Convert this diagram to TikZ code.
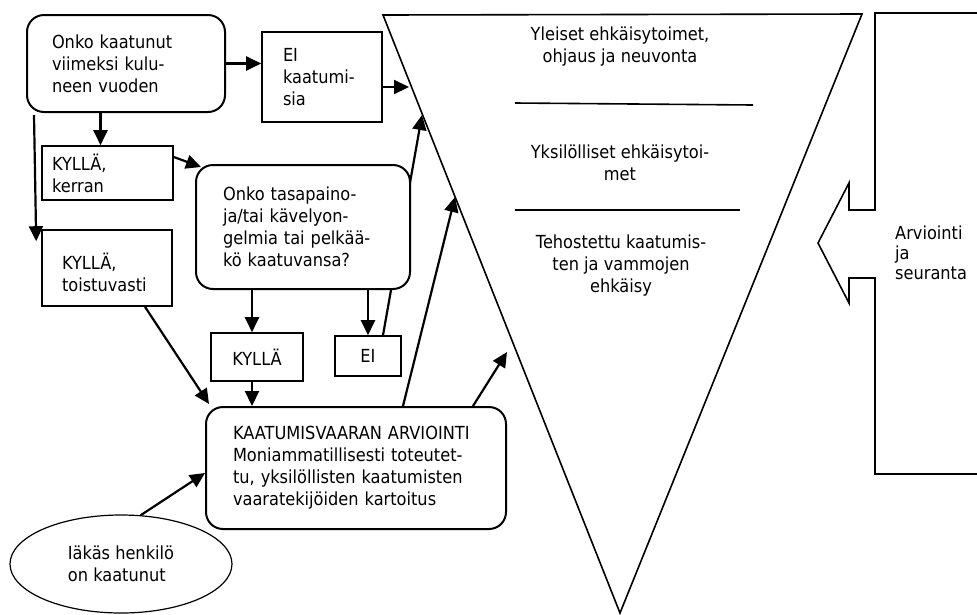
\documentclass[tikz,border=0pt]{standalone}
\usepackage{fontspec}
\setmainfont{DejaVu Sans}[FakeStretch=0.9]
\usetikzlibrary{arrows.meta,backgrounds,shapes.geometric}

\begin{document}
\begin{tikzpicture}[x=1pt, y=-1pt,
    every node/.style={font=\fontsize{18}{22}\selectfont},
    qbox/.style={draw, line width=2pt, rounded corners=17pt, align=left, fill=white, inner ysep=0pt},
    abox/.style={draw, line width=1.6pt, align=left, inner ysep=0pt},
    arr/.style={line width=2.2pt, -{Triangle[length=15pt,width=14pt]}}]

    \useasboundingbox (0,0) rectangle (977,614);

    \node[qbox, text width=148pt, inner xsep=25pt, minimum height=97pt] (A) at (126,63.5) {Onko kaatunut\\viimeksi kulu-\\neen vuoden}; % first question
    \node[abox, text width=78pt, inner xsep=21pt, minimum height=90pt] (EIa) at (322,77) {EI\\kaatumi-\\sia};
    \node[abox, text width=111pt, inner xsep=10pt, minimum height=54pt] (Kk) at (107.5,173) {KYLLÄ,\\kerran};
    \node[abox, text width=90pt, inner xsep=20pt, minimum height=76pt, text depth=14pt] (Kt) at (107,268) {KYLLÄ,\\toistuvasti};
    \node[qbox, text width=160pt, inner xsep=27pt, minimum height=124pt] (B) at (303,227) {Onko tasapaino-\\ja/tai kävelyon-\\gelmia tai pelkää-\\kö kaatuvansa?}; % second question
    \node[abox, minimum width=92pt, minimum height=48pt] (KY) at (257,357) {KYLLÄ};
    \node[abox, minimum width=66pt, minimum height=40pt] (EIb) at (368,356) {EI};
    \node[qbox, text width=246pt, inner xsep=27pt, minimum height=122pt] (C) at (356,468) {KAATUMISVAARAN ARVIOINTI\\Moniammatillisesti toteutet-\\tu, yksilöllisten kaatumisten\\vaaratekijöiden kartoitus}; % assessment
    \node[draw, ellipse, line width=1.2pt, align=left, minimum width=222pt, minimum height=98pt] (E) at (121,564) {Iäkäs henkilö\\on kaatunut};

    \draw[line width=1.6pt] (383,15) -- (862,14) -- (620,613) -- cycle; % inverted triangle
    \draw[line width=1.6pt] (515,103) -- (753,105); % top divider
    \draw[line width=1.6pt] (515,210) -- (740,210); % bottom divider

    \node[align=center] (t1) at (620,47) {Yleiset ehkäisytoimet,\\ohjaus ja neuvonta};
    \node[align=center] (t2) at (620,162.5) {Yksilölliset ehkäisytoi-\\met};
    \node[align=center] (t3) at (621,266) {Tehostettu kaatumis-\\ten ja vammojen\\ehkäisy};

    \draw[line width=1.6pt] (977,13) -- (875,13) -- (875,210) -- (849,210) -- (849,183) -- (818,243)
        -- (849,303) -- (849,278) -- (875,278) -- (875,474) -- (977,474); % feedback arrow
    \node[align=left, anchor=west, inner xsep=0pt, font=\fontsize{18}{20}\selectfont] (AS) at (895,252.5) {Arviointi\\ja\\seuranta};

    \coordinate (e1) at (409,87);
    \coordinate (e2) at (422,115);
    \coordinate (e3) at (455,197);
    \coordinate (e4) at (507,352);

    \draw[arr] (A.east) -- (A.east -| EIa.west);
    \draw[arr] ([yshift=-10pt]EIa.east) -- (e1);
    \draw[arr] ([xshift=-7pt]Kk.north |- A.south) -- ([xshift=-7pt]Kk.north);
    \draw[arr] ([xshift=8pt,yshift=-2pt]A.south west) -- ([xshift=-5pt,yshift=-12pt]Kt.north west); % long one
    \draw[arr] ([yshift=16pt]Kk.east) -- ([xshift=6pt,yshift=-3pt]B.north west);
    \draw[arr] ([xshift=-5pt]KY.north |- B.south) -- ([xshift=-5pt]KY.north);
    \draw[arr] (EIb.north |- B.south) -- (EIb.north);
    \begin{pgfonlayer}{background}
    \draw[arr] ([xshift=15pt]EIb.north) -- (e2); % goes behind B
    \end{pgfonlayer}
    \draw[arr] ([xshift=-5pt]KY.south) -- ([xshift=-5pt]KY.south |- C.north);
    \draw[arr] ([xshift=38pt]Kt.south) -- ([xshift=4pt,yshift=2pt]C.north west);
    \draw[arr] (E.68) -- ([yshift=-5pt]C.west);
    \draw[arr] ([xshift=47pt]C.north) -- (e3);
    \draw[arr] ([xshift=117pt]C.north) -- (e4);
\end{tikzpicture}
\end{document}
